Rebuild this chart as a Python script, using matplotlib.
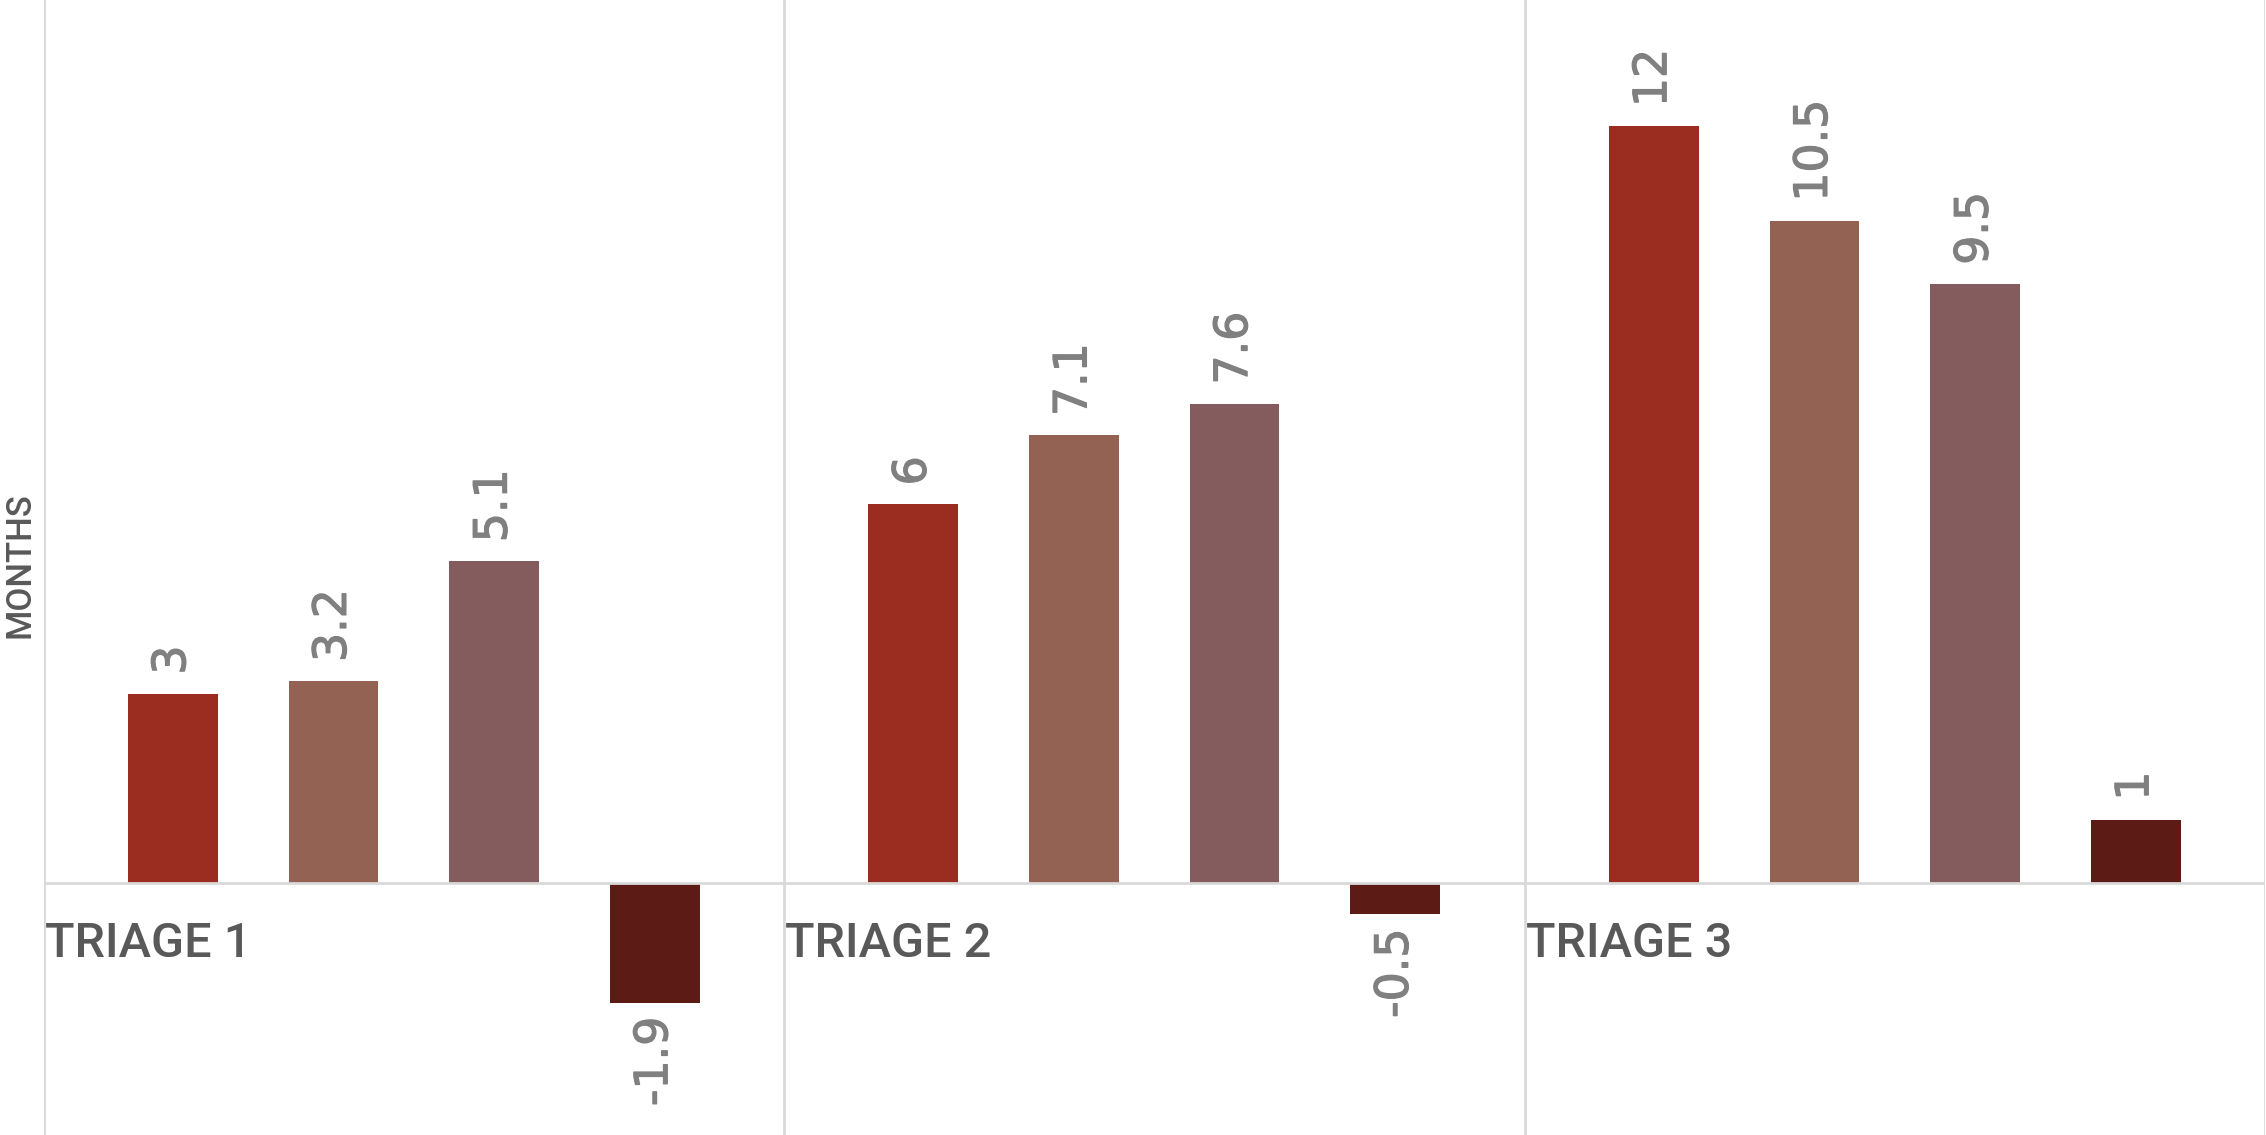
import matplotlib
matplotlib.use("Agg")
import matplotlib.pyplot as plt
import matplotlib.patheffects as pe
import numpy as np

# Months per triage group, four series each
groups = ["TRIAGE 1", "TRIAGE 2", "TRIAGE 3"]
series_a = [3, 6, 12]
series_b = [3.2, 7.1, 10.5]
series_c = [5.1, 7.6, 9.5]
series_d = [-1.9, -0.5, 1]
y_label = "MONTHS"

colors = ["#9A2C20", "#946252", "#845C5D", "#5C1B15"]
grid_col = "#D9D9D9"
text_col = "#595959"
value_col = "#808080"

W, H, DPI = 2266, 1135, 100
fig = plt.figure(figsize=(W / DPI, H / DPI), dpi=DPI)
ax = fig.add_axes([43.5 / W, 0, (2265 - 43.5) / W, 1])

all_series = [series_a, series_b, series_c, series_d]
spacing = 0.217
width = 0.121
x_base = np.arange(len(groups)) + 0.5
heavy = [pe.withStroke(linewidth=0.9, foreground=value_col)]

for j, (vals, col) in enumerate(zip(all_series, colors)):
    xs = x_base + (j - 1.5) * spacing
    ax.bar(xs, vals, width=width, color=col, zorder=3)
    for x, v in zip(xs, vals):
        txt = f"{v:g}"
        up = v >= 0
        ax.annotate(txt, (x, v), xytext=(0, 19 if up else -14),
                    textcoords="offset pixels", rotation=90, ha="center",
                    va="bottom" if up else "top",
                    fontsize=33, color=value_col, family="DejaVu Sans",
                    path_effects=heavy)

# Panel separators and baseline
for xv in range(len(groups) + 1):
    ax.axvline(xv, color=grid_col, lw=2, zorder=1)
ax.axhline(0, color=grid_col, lw=2, zorder=4)

# Group names under the baseline
for i, g in enumerate(groups):
    ax.text(i + 0.002, -1.175, g, ha="left", va="baseline", fontsize=35,
            color=text_col, family="Roboto", fontweight="medium")

ax.set_xlim(0, len(groups))
ax.set_ylim(-4, 14)
ax.axis("off")

fig.text(20 / W, 1 - 565 / H, y_label, rotation=90, ha="center", va="center",
         fontsize=25, color=text_col, family="Roboto", fontweight="medium")

fig.savefig("out.png", dpi=DPI, facecolor="white")
